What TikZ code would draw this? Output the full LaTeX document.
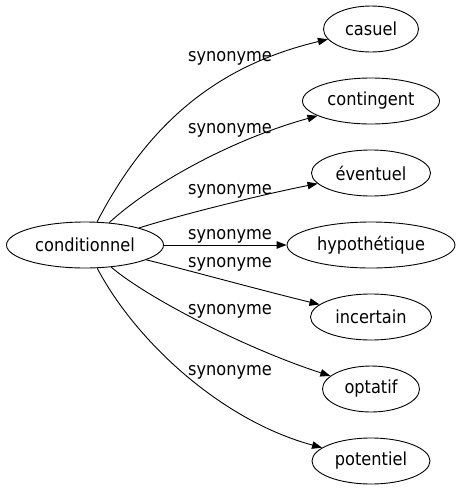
\documentclass[tikz,border=0pt]{standalone}
\usepackage{fontspec}
\setmainfont{DejaVu Sans Condensed}
\usetikzlibrary{shapes.geometric,arrows.meta}
\tikzset{
  word/.style={ellipse,draw,line width=0.9pt,inner sep=0pt,font=\fontsize{18}{20}\selectfont,minimum height=46pt},
  lab/.style={inner sep=0pt,anchor=base,font=\fontsize{18}{20}\selectfont},
  edge/.style={line width=0.9pt,-{Triangle[length=10pt,width=7.5pt]}}
}
\begin{document}
\begin{tikzpicture}[x=1pt,y=-1pt]
\useasboundingbox (0,0) rectangle (459,491);
\node[word,minimum width=157pt] (c) at (85,245) {conditionnel};
\node[word,minimum width=95pt] (t1) at (371,29) {casuel};
\node[word,minimum width=137pt] (t2) at (371,101) {contingent};
\node[word,minimum width=119pt] (t3) at (371,173) {éventuel};
\node[word,minimum width=168pt] (t4) at (371,245) {hypothétique};
\node[word,minimum width=121pt] (t5) at (371,317) {incertain};
\node[word,minimum width=97pt] (t6) at (371,389) {optatif};
\node[word,minimum width=118pt] (t7) at (371,461) {potentiel};
\draw[edge] (c) .. controls (150,120) and (220,65) .. (t1);
\draw[edge] (c) .. controls (150,185) and (230,140) .. (t2);
\draw[edge] (c) .. controls (180,215) and (260,195) .. (t3);
\draw[edge] (c) -- (t4);
\draw[edge] (c) .. controls (180,268) and (260,290) .. (t5);
\draw[edge] (c) .. controls (150,300) and (250,350) .. (t6);
\draw[edge] (c) .. controls (135,340) and (220,420) .. (t7);
\node[lab] (l1) at (230,61) {synonyme};
\node[lab] (l2) at (230,133) {synonyme};
\node[lab] (l3) at (230,194) {synonyme};
\node[lab] (l4) at (230,239) {synonyme};
\node[lab] (l5) at (230,267) {synonyme};
\node[lab] (l6) at (230,314) {synonyme};
\node[lab] (l7) at (230,375) {synonyme};
\end{tikzpicture}
\end{document}
